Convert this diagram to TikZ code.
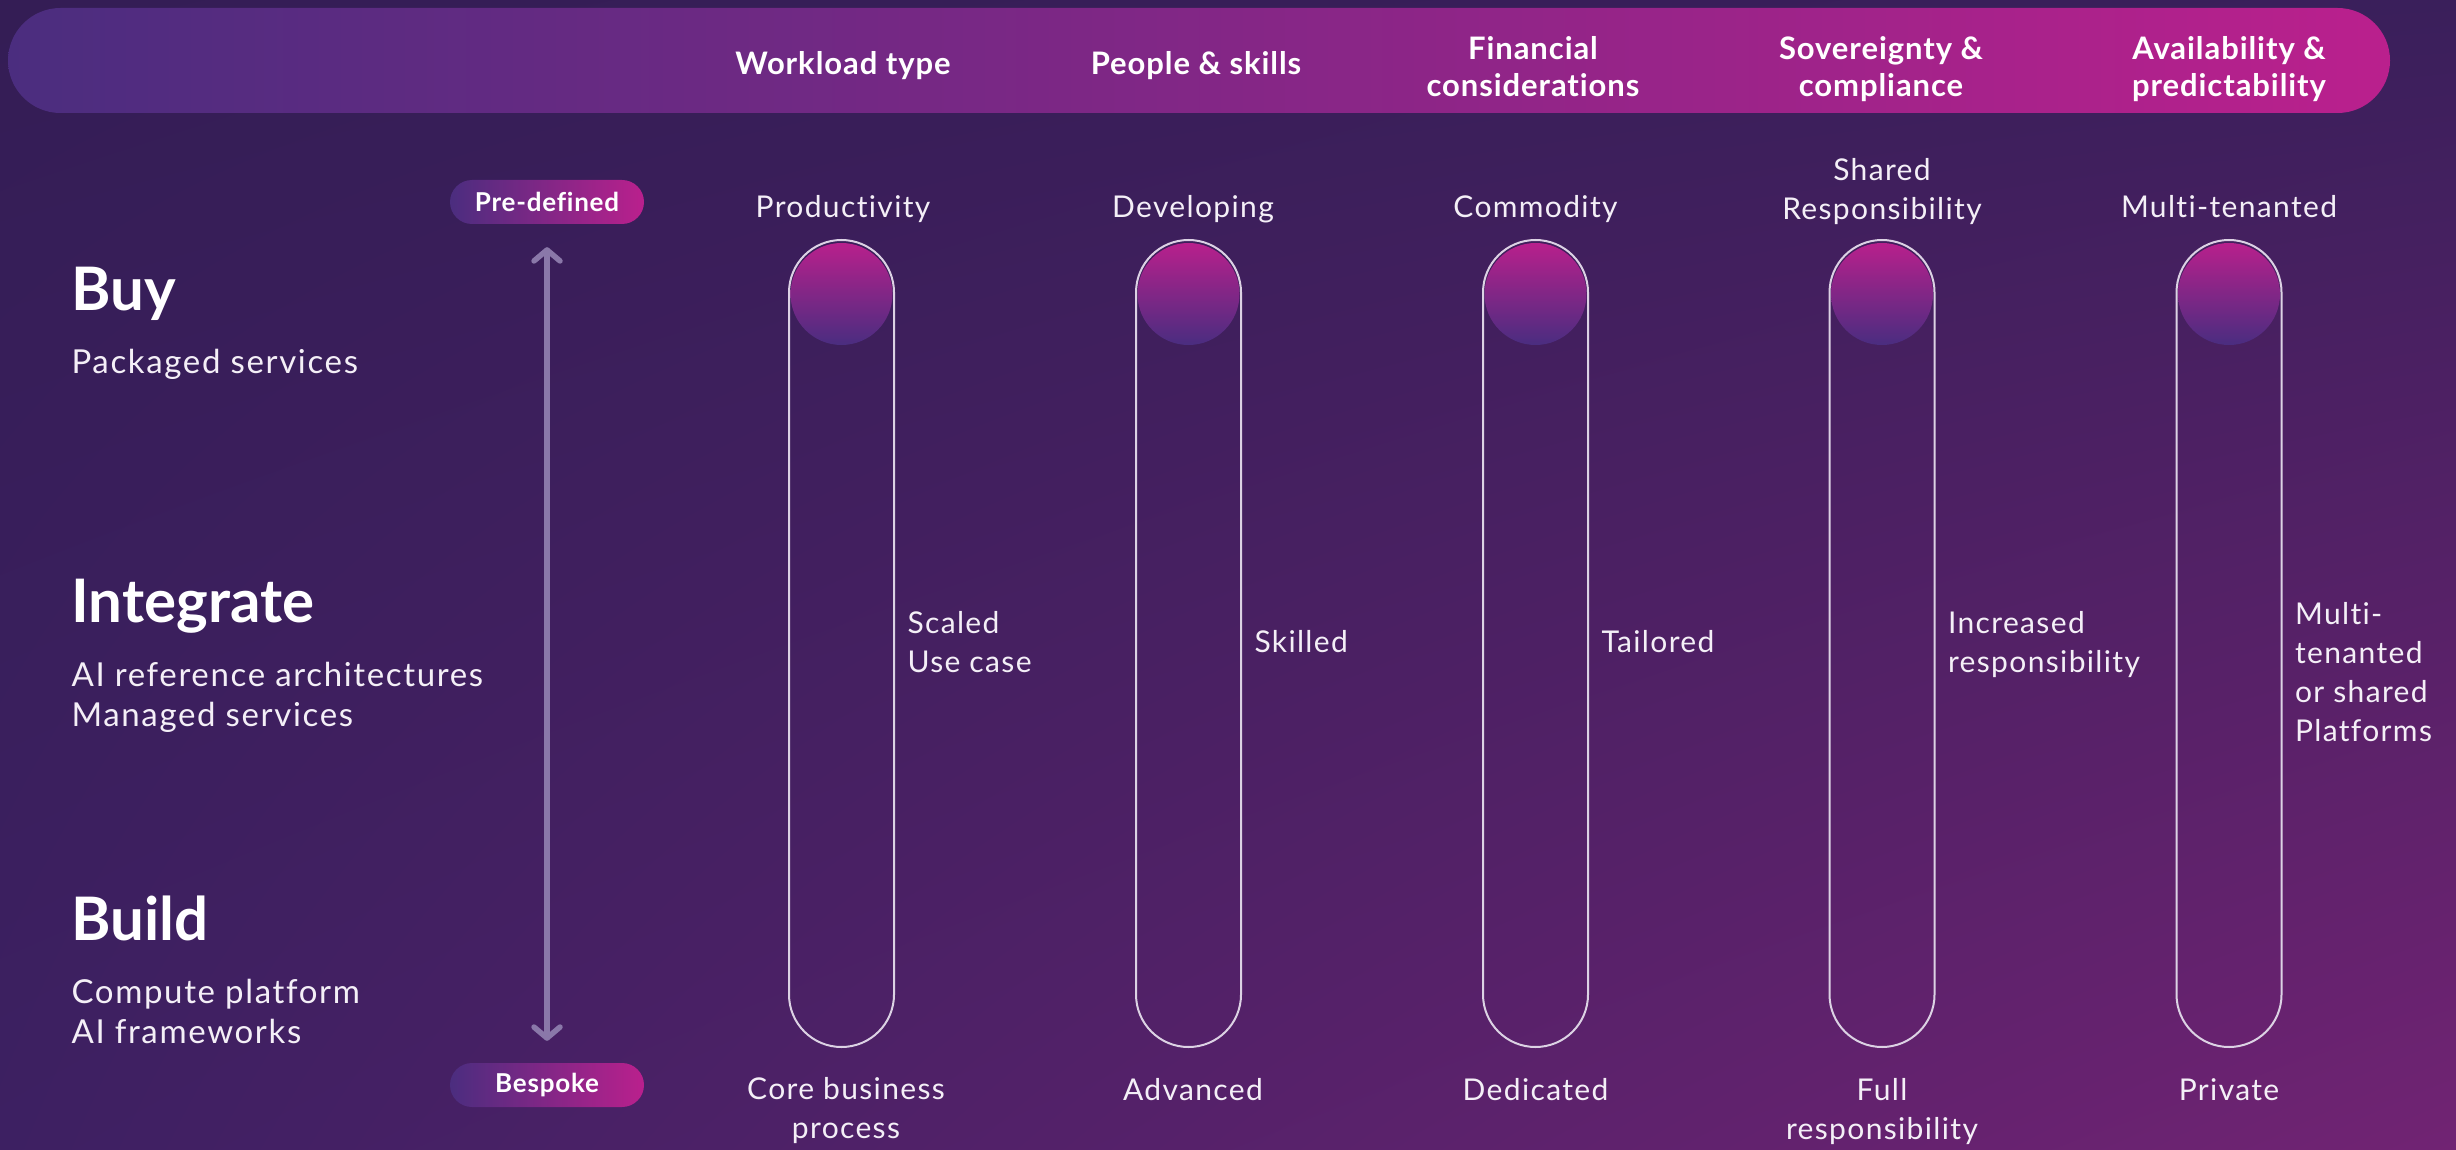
\documentclass[tikz,border=0pt]{standalone}
\usepackage{fontspec}
\setmainfont{Lato}
\newfontfamily\lblfont[LetterSpace=4.5,Ligatures=NoCommon]{Lato}
\newfontfamily\subfont[LetterSpace=5,Ligatures=NoCommon]{Lato}
\newfontfamily\hdrfont[LetterSpace=3,Ligatures=NoCommon]{Lato}
\usetikzlibrary{arrows.meta,shapes.misc,shadings}
\definecolor{bgUL}{HTML}{341D55}
\definecolor{bgUR}{HTML}{3A1F5B}
\definecolor{bgLL}{HTML}{3D2062}
\definecolor{bgLR}{HTML}{712373}
\definecolor{hdrL}{HTML}{4B2D7F}
\definecolor{hdrR}{HTML}{BA208D}
\definecolor{ballT}{HTML}{B8208C}
\definecolor{ballB}{HTML}{4A2D80}
\definecolor{capline}{HTML}{DCD2E4}
\definecolor{arrowc}{HTML}{8A78A9}
\definecolor{txtc}{HTML}{F4EFF7}
\tikzset{
  hdrbar/.style={rounded rectangle, minimum width=2382pt, minimum height=105pt, inner sep=0pt, left color=hdrL, right color=hdrR},
  hdrtxt/.style={text=white, font=\hdrfont\bfseries\fontsize{31}{37}\selectfont, align=center, anchor=base},
  capsule/.style={rectangle, rounded corners=52.5pt, draw=capline, line width=2pt, minimum width=105pt, minimum height=807pt, inner sep=0pt},
  ball/.style={circle, minimum size=102pt, inner sep=0pt, top color=ballT, bottom color=ballB},
  lbl/.style={text=txtc, font=\lblfont\fontsize{30}{39}\selectfont},
  toplbl/.style={lbl, align=center, anchor=base},
  midlbl/.style={lbl, align=left, anchor=base west},
  bigtxt/.style={text=white, font=\bfseries\fontsize{60}{70}\selectfont, anchor=base west},
  subtxt/.style={text=txtc, font=\subfont\fontsize{33}{40}\selectfont, align=left, anchor=base west},
  pill/.style={rounded rectangle, minimum width=194pt, minimum height=44pt, inner sep=0pt, left color=hdrL, right color=hdrR, text=white, font=\hdrfont\bfseries\fontsize{26}{28}\selectfont},
  scalearrow/.style={draw=arrowc, line width=5.5pt, {Straight Barb[length=11pt,width=26pt,round]}-{Straight Barb[length=11pt,width=26pt,round]}}
}
\begin{document}
\begin{tikzpicture}[x=1pt,y=-1pt]
\shade[upper left=bgUL, upper right=bgUR, lower left=bgLL, lower right=bgLR] (0,0) rectangle (2456,1150);
\useasboundingbox (0,0) rectangle (2456,1150);

% header
\node[hdrbar] (bar) at (1199,60.5) {};
\node[hdrtxt] (h1) at (843,75) {Workload type};
\node[hdrtxt] (h2) at (1196,75) {People \& skills};
\node[hdrtxt] (h3) at (1533,97) {Financial\\considerations};
\node[hdrtxt] (h4) at (1881,97) {Sovereignty \&\\compliance};
\node[hdrtxt] (h5) at (2229,97) {Availability \&\\predictability};

% left side
\node[bigtxt] (buy) at (68,310) {Buy};
\node[subtxt] (buys) at (68,373) {Packaged services};
\node[bigtxt] (integ) at (68,622) {Integrate};
\node[subtxt] (integs) at (68,726) {AI reference architectures\\Managed services};
\node[bigtxt] (build) at (68,940) {Build};
\node[subtxt] (builds) at (68,1043) {Compute platform\\AI frameworks};

% scale
\node[pill] (pre) at (547,202) {Pre-defined};
\node[pill] (besp) at (547,1085) {Bespoke};
\draw[scalearrow, shorten <=23pt, shorten >=22pt] (pre.south) -- (besp.north);

% capsules
\foreach \i/\c in {1/841.5, 2/1188.5, 3/1535.5, 4/1882, 5/2229} {
  \node[ball] (ball\i) at (\c,294) {};
  \node[capsule] (cap\i) at (\c,643.5) {};
}

% top labels
\node[toplbl] (t1) at (843,218) {Productivity};
\node[toplbl] (t2) at (1193,218) {Developing};
\node[toplbl] (t3) at (1535.5,218) {Commodity};
\node[toplbl] (t4) at (1882,220) {Shared\\Responsibility};
\node[toplbl] (t5) at (2229,218) {Multi-tenanted};

% middle labels
\node[midlbl] (m1) at (904,672) {Scaled\\Use case};
\node[midlbl] (m2) at (1251,652) {Skilled};
\node[midlbl] (m3) at (1598,652) {Tailored};
\node[midlbl] (m4) at (1944.5,672) {Increased\\responsibility};
\node[midlbl] (m5) at (2291.5,741) {Multi-\\tenanted\\or shared\\Platforms};

% bottom labels
\node[toplbl] (d1) at (846,1138) {Core business\\process};
\node[toplbl] (d2) at (1193,1100) {Advanced};
\node[toplbl] (d3) at (1535.5,1100) {Dedicated};
\node[toplbl] (d4) at (1882,1139) {Full\\responsibility};
\node[toplbl] (d5) at (2229,1100) {Private};
\end{tikzpicture}
\end{document}
